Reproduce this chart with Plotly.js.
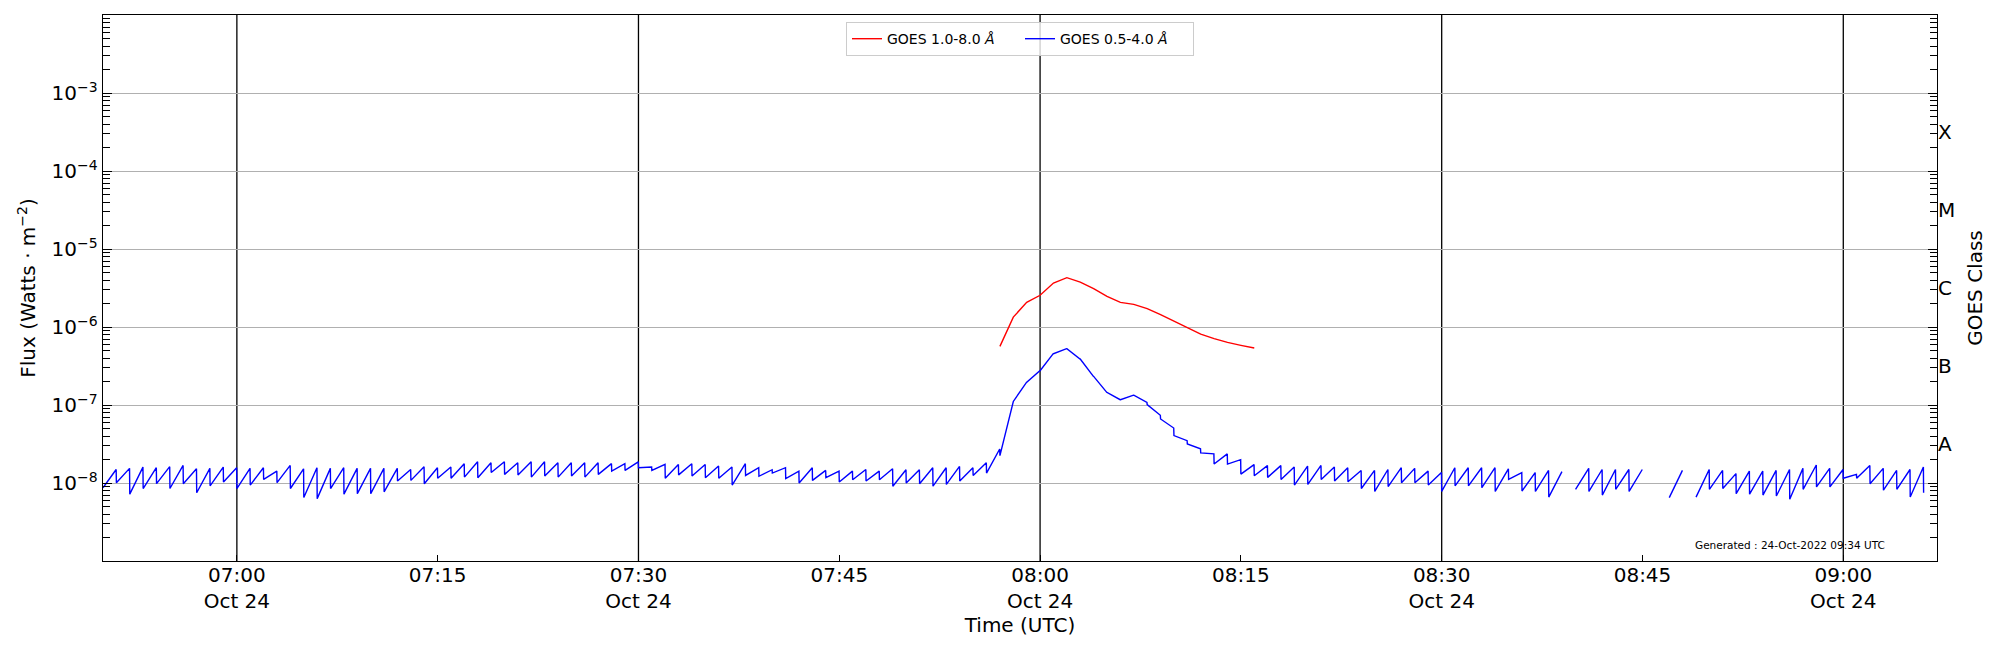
<!DOCTYPE html>
<html>
<head>
<meta charset="utf-8">
<script src="https://cdn.plot.ly/plotly-3.0.1.min.js"></script>
<style>
  html, body { margin: 0; padding: 0; background: #fff; }
  #plot { width: 2000px; height: 650px; }
</style>
</head>
<body>
<div id="plot"></div>
<script>
// GOES XRS light curve, 24-Oct-2022 06:50 - 09:07 UTC
// one entry per minute, starting 06:50; values in units of 1e-8 W m^-2
// start = value at the start of the minute, end = value at the end of it
const UNIT = 1e-8;
const blueStart = [
  0.87, 1.01, 0.72, 0.85, 0.98, 0.85, 0.98, 0.75, 0.92, 1.03,
  0.85, 0.94, 1.11, 1.01, 0.85, 0.65, 0.63, 0.85, 0.72, 0.73,
  0.73, 0.77, 1.06, 1.08, 0.98, 1.15, 1.15, 1.19, 1.17, 1.36,
  1.29, 1.27, 1.19, 1.23, 1.19, 1.23, 1.19, 1.29, 1.42, 1.45,
  1.57, 1.45, 1.15, 1.27, 1.23, 1.17, 1.15, 0.94, 1.25, 1.22,
  1.34, 1.14, 1.00, 1.08, 1.17, 1.03, 1.10, 1.06, 1.10, 0.91,
  1.00, 0.98, 0.91, 0.96, 1.06, 1.25, 1.34, 2.24, 11.1, 19.5,
  27.5, 45.5, 52.7, 38.9, 23.3, 14.5, 11.7, 13.4, 10.1, 6.62,
  4.05, 3.16, 2.43, 1.75, 1.75, 1.30, 1.24, 1.18, 1.11, 0.94,
  0.96, 1.11, 1.06, 1.04, 0.85, 0.78, 0.90, 1.01, 1.01, 0.94,
  0.78, 0.92, 0.92, 0.87, 0.78, 1.11, 0.79, 0.78, 0.66, null,
  0.83, 0.78, 0.70, 0.83, 0.78, null, null, 0.65, null, 0.66,
  0.83, 0.85, 0.73, 0.72, 0.70, 0.68, 0.62, 0.83, 0.89, 0.89,
  1.15, 1.15, 0.98, 0.81, 0.83, 0.66, 0.75
];
const blueEnd = [
  1.49, 1.54, 1.60, 1.57, 1.62, 1.68, 1.52, 1.54, 1.60, 1.57,
  1.54, 1.57, 1.42, 1.68, 1.52, 1.57, 1.54, 1.57, 1.54, 1.54,
  1.54, 1.54, 1.49, 1.62, 1.57, 1.60, 1.77, 1.87, 1.82, 1.87,
  1.82, 1.87, 1.87, 1.82, 1.82, 1.82, 1.82, 1.77, 1.77, 1.87,
  1.60, 1.73, 1.73, 1.77, 1.73, 1.65, 1.60, 1.77, 1.57, 1.48,
  1.57, 1.42, 1.57, 1.45, 1.42, 1.42, 1.49, 1.42, 1.52, 1.48,
  1.48, 1.57, 1.57, 1.63, 1.57, 1.82, 2.73, 10.6, 19.5, 27.5,
  45.5, 52.7, 38.9, 23.3, 14.5, 11.7, 13.4, 10.8, 7.38, 5.07,
  3.49, 2.75, 2.36, 2.36, 1.99, 1.72, 1.67, 1.67, 1.60, 1.65,
  1.68, 1.60, 1.57, 1.45, 1.45, 1.49, 1.57, 1.54, 1.42, 1.36,
  1.57, 1.57, 1.57, 1.57, 1.52, 1.36, 1.36, 1.45, 1.40, null,
  1.54, 1.49, 1.49, 1.49, 1.49, null, null, 1.45, null, 1.49,
  1.45, 1.32, 1.42, 1.42, 1.45, 1.49, 1.54, 1.70, 1.54, 1.49,
  1.29, 1.68, 1.54, 1.45, 1.49, 1.60, null
];
// 1.0-8.0 A channel, one value per minute from 07:57 (minute index 67)
const redFirstMinute = 67;
const redValues = [
  56.5, 134, 207, 255, 366, 429, 377, 310, 247, 207,
  195, 172, 144, 118, 97, 81, 71, 63.5, 58.2, 53.8
];

const gridTimes = ['07:00', '07:30', '08:00', '08:30', '09:00'];
const xTickTimes = ['07:00', '07:15', '07:30', '07:45', '08:00', '08:15', '08:30', '08:45', '09:00'];
const xTickText = ['07:00<br>Oct 24', '07:15', '07:30<br>Oct 24', '07:45', '08:00<br>Oct 24',
                   '08:15', '08:30<br>Oct 24', '08:45', '09:00<br>Oct 24'];
const fluxTickExp = [-8, -7, -6, -5, -4, -3];
const classLabels = ['A', 'B', 'C', 'M', 'X'];
const classExp = [-7.5, -6.5, -5.5, -4.5, -3.5];

const DAY = '2022-10-24';
function pad(n) { return String(n).padStart(2, '0'); }
function stamp(minuteIndex, sec) {
  const d = new Date(Date.UTC(2022, 9, 24, 6, 50 + minuteIndex, sec));
  return DAY + ' ' + pad(d.getUTCHours()) + ':' + pad(d.getUTCMinutes()) + ':' + pad(d.getUTCSeconds());
}

// build the blue series: start point, end point per minute, gaps where missing
const bx = [], by = [];
blueStart.forEach((s, k) => {
  if (s == null) { bx.push(stamp(k, 0)); by.push(null); return; }
  bx.push(stamp(k, 0)); by.push(s * UNIT);
  const e = blueEnd[k];
  if (e != null) { bx.push(stamp(k, 59)); by.push(e * UNIT); }
});

const rx = redValues.map((v, i) => stamp(redFirstMinute + i, 0));
const ry = redValues.map(v => v * UNIT);

const minorVals = [];
for (let e = -9; e <= -3; e++) for (let m = 2; m <= 9; m++) minorVals.push(m * Math.pow(10, e));

const font = {family: 'DejaVu Sans, sans-serif', size: 20, color: '#000'};

const traces = [
  {x: rx, y: ry, type: 'scatter', mode: 'lines', name: 'GOES 1.0-8.0 <i>Å</i>',
   line: {color: '#ff0000', width: 1.4}, connectgaps: false},
  {x: bx, y: by, type: 'scatter', mode: 'lines', name: 'GOES 0.5-4.0 <i>Å</i>',
   line: {color: '#0000ff', width: 1.4}, connectgaps: false},
  {x: [stamp(0, 0)], y: [null], yaxis: 'y2', type: 'scatter', mode: 'lines',
   showlegend: false, hoverinfo: 'skip'}
];

const shapes = gridTimes.map(t => ({
  type: 'line', xref: 'x', yref: 'paper', x0: DAY + ' ' + t, x1: DAY + ' ' + t, y0: 0, y1: 1,
  line: {color: '#000', width: 1.3}, layer: 'below'
}));

const layout = {
  width: 2000, height: 650,
  margin: {l: 103, r: 63, t: 15, b: 89},
  paper_bgcolor: '#fff', plot_bgcolor: '#fff',
  font: font,
  showlegend: true,
  legend: {
    orientation: 'h', x: 0.5, xanchor: 'center', y: 0.987, yanchor: 'top',
    bgcolor: 'rgba(255,255,255,0.8)', bordercolor: '#cccccc', borderwidth: 1,
    font: {family: 'DejaVu Sans, sans-serif', size: 14, color: '#000'},
    entrywidth: 128, entrywidthmode: 'pixels', tracegroupgap: 0
  },
  xaxis: {
    type: 'date',
    range: [DAY + ' 06:50:00', DAY + ' 09:07:00'],
    tickmode: 'array',
    tickvals: xTickTimes.map(t => DAY + ' ' + t),
    ticktext: xTickText,
    ticks: 'inside', ticklen: 6, tickwidth: 1, tickcolor: '#000',
    ticklabelstandoff: -4,
    showgrid: false, zeroline: false,
    showline: true, linecolor: '#000', linewidth: 1.3, mirror: true,
    tickfont: font,
    title: {text: 'Time (UTC)', font: font, standoff: 4}
  },
  yaxis: {
    type: 'log', range: [-9, -2],
    tickmode: 'array',
    tickvals: fluxTickExp.map(e => Math.pow(10, e)),
    ticktext: fluxTickExp.map(e => '10<sup>\u2212' + (-e) + '</sup>'),
    ticks: 'inside', ticklen: 9, tickwidth: 1, tickcolor: '#000',
    minor: {tickmode: 'array', tickvals: minorVals, ticks: 'inside', ticklen: 7,
            tickwidth: 1, tickcolor: '#000', showgrid: false},
    showgrid: true, gridcolor: '#b0b0b0', gridwidth: 1,
    zeroline: false,
    showline: true, linecolor: '#000', linewidth: 1.3, mirror: 'allticks',
    tickfont: font,
    title: {text: 'Flux (Watts \u00b7 m<sup>\u22122</sup>)', font: font, standoff: 10}
  },
  yaxis2: {
    type: 'log', range: [-9, -2], overlaying: 'y', side: 'right', anchor: 'x',
    tickmode: 'array',
    tickvals: classExp.map(e => Math.pow(10, e)),
    ticktext: classLabels,
    ticks: '', showgrid: false, zeroline: false, showline: false,
    tickfont: font,
    title: {text: 'GOES Class', font: font, standoff: 13}
  },
  shapes: shapes,
  annotations: [{
    xref: 'paper', yref: 'paper', x: 0.92, y: 0.029, xanchor: 'center', yanchor: 'middle',
    text: 'Generated : 24-Oct-2022 09:34 UTC', showarrow: false,
    font: {family: 'DejaVu Sans, sans-serif', size: 10.5, color: '#000'}
  }]
};

Plotly.newPlot('plot', traces, layout, {displayModeBar: false, staticPlot: true});
</script>
</body>
</html>
